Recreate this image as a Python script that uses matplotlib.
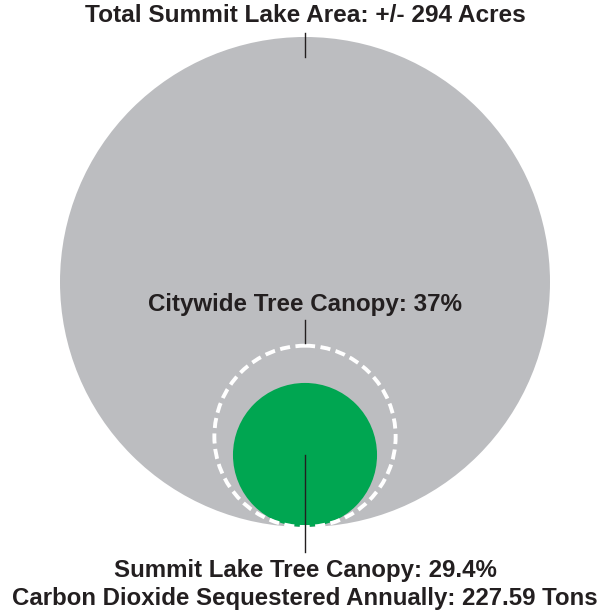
import matplotlib
matplotlib.use("Agg")
import matplotlib.pyplot as plt
from matplotlib.patches import Circle

# values from the graphic
total_acres = 294
citywide_pct = 37
summit_pct = 29.4
co2_tons = 227.59

labels = [
    f"Total Summit Lake Area: +/- {total_acres} Acres",
    f"Citywide Tree Canopy: {citywide_pct}%",
    f"Summit Lake Tree Canopy: {summit_pct}%",
    f"Carbon Dioxide Sequestered Annually: {co2_tons} Tons",
]

GREY = "#bcbdc0"
GREEN = "#00a651"
INK = "#231f20"

fig = plt.figure(figsize=(6.02, 6.14), dpi=100)
ax = fig.add_axes([0, 0, 1, 1])
ax.set_xlim(0, 602)
ax.set_ylim(614, 0)
ax.set_aspect("equal")
ax.axis("off")

# big circle = whole area, inner circles scaled by canopy share (all touch at bottom)
cx, bottom, R = 305, 527, 245
r_city = R * citywide_pct / 100
r_summit = R * summit_pct / 100

ax.add_patch(Circle((cx, bottom - R), R, color=GREY, lw=0))
ax.add_patch(Circle((cx, bottom - r_summit), r_summit, color=GREEN, lw=0))
ax.add_patch(Circle((cx, bottom - r_city), r_city, fill=False, ec="white",
                    lw=2.8, ls=(0, (2.6, 1.4))))

# leader lines
ax.plot([cx, cx], [33, 57], color=INK, lw=1)
ax.plot([cx, cx], [320, bottom - 2 * r_city - 3], color=INK, lw=1)
ax.plot([cx, cx], [bottom - r_summit, 552], color=INK, lw=1)

font = dict(family=["Liberation Sans", "DejaVu Sans"], weight="bold", color=INK,
            ha="center", va="center")
ax.text(cx, 16, labels[0], fontsize=17.6, **font)
ax.text(cx, 304, labels[1], fontsize=17.4, **font)
ax.text(cx, 570, labels[2], fontsize=17.3, **font)
ax.text(cx, 599, labels[3], fontsize=17.3, **font)

fig.savefig("out.png", dpi=100)
